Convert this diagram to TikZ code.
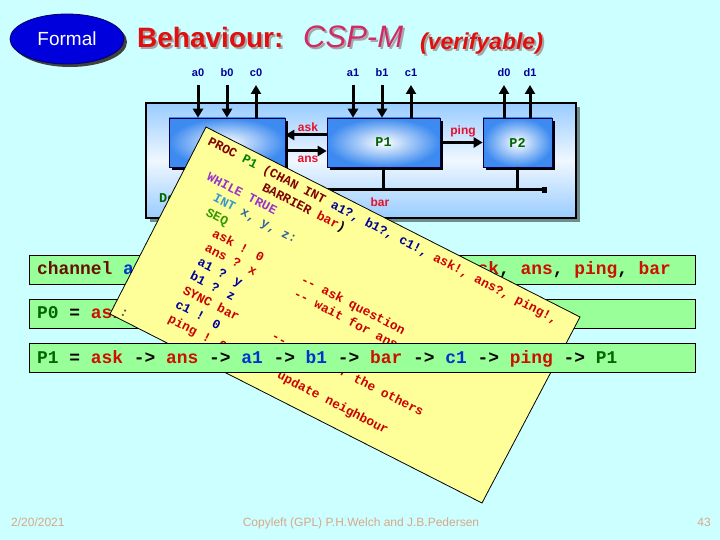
\documentclass[tikz,border=0pt]{standalone}
\usepackage{fontspec}
\setmainfont{Liberation Sans}
\newfontfamily\monof{Liberation Mono}
\usetikzlibrary{shapes.geometric,arrows.meta,shadows}
\definecolor{bgcyan}{HTML}{CCFFFF}
\definecolor{fblue}{HTML}{0000DD}
\definecolor{tred}{HTML}{E01010}
\definecolor{cspm}{HTML}{D02A66}
\definecolor{lblue}{HTML}{000099}
\definecolor{obl}{HTML}{99CCFF}
\definecolor{pblue}{HTML}{3D8BF0}
\definecolor{pgreen}{HTML}{006600}
\definecolor{sigred}{HTML}{E8102A}
\definecolor{bargreen}{HTML}{99FF99}
\definecolor{noteyellow}{HTML}{FFFF99}
\definecolor{nmaroon}{HTML}{800000}
\definecolor{ngreen}{HTML}{008000}
\definecolor{nblue}{HTML}{000099}
\definecolor{nred}{HTML}{CC0000}
\definecolor{npurple}{HTML}{9933CC}
\definecolor{nteal}{HTML}{3399CC}
\definecolor{nsteel}{HTML}{336699}
\definecolor{nseq}{HTML}{339900}
\definecolor{cmaroon}{HTML}{661100}
\definecolor{cblue}{HTML}{0033CC}
\definecolor{cred}{HTML}{CC1100}
\definecolor{foot}{HTML}{D8A888}
\tikzset{
  conn/.style={line width=3pt, black},
  arr/.style={conn, -{Triangle[length=9pt,width=10pt]}},
  lbl/.style={font=\fontsize{11}{12}\selectfont\bfseries, text=lblue, inner sep=0, anchor=base},
  sig/.style={font=\fontsize{12}{13}\selectfont\bfseries, text=sigred, inner sep=0},
  pbox/.style={rectangle, draw=blue!30!black, line width=0.6pt, inner color=white, outer color=pblue,
    minimum height=49pt, general shadow={fill=black, shadow xshift=3pt, shadow yshift=-3pt},
    font=\monof\bfseries\fontsize{13.5}{14}\selectfont, text=pgreen},
  outerbox/.style={rectangle, draw=black, line width=2pt, top color=obl, bottom color=obl, middle color=obl!15,
    general shadow={fill=black!45!bgcyan, shadow xshift=4pt, shadow yshift=-4pt}},
  greenbar/.style={rectangle, draw=black, line width=1pt, fill=bargreen, anchor=north west,
    minimum width=666pt, minimum height=29pt},
  bartext/.style={anchor=base west, inner sep=0, font=\monof\bfseries\fontsize{17.9}{20}\selectfont},
  nt/.style={anchor=base west, inner sep=0, font=\monof\bfseries\fontsize{12.8}{14}\selectfont},
  foottext/.style={inner sep=0, text=foot, font=\fontsize{12}{13}\selectfont},
}
\begin{document}
\begin{tikzpicture}[x=1pt,y=-1pt]
\fill[bgcyan] (0,0) rectangle (720,540);
\useasboundingbox (0,0) rectangle (720,540);

% Formal ellipse
\node[ellipse, fill=fblue, draw=blue!40!black, line width=0.8pt, minimum width=114pt, minimum height=50pt,
  inner sep=0, text=white, font=\fontsize{19}{22}\selectfont,
  general shadow={fill=black!75, shadow xshift=3pt, shadow yshift=-3pt}] (formal) at (67,39) {Formal};

% Title
\node[anchor=base west, inner sep=0, text=black!35, font=\fontsize{28}{30}\selectfont\bfseries] at (139,50) {Behaviour:};
\node[anchor=base west, inner sep=0, text=tred, font=\fontsize{28}{30}\selectfont\bfseries] (t1) at (137,48) {Behaviour:};
\node[anchor=base west, inner sep=0, text=black!35, font=\fontsize{31}{33}\selectfont\itshape] at (305,50) {CSP-M};
\node[anchor=base west, inner sep=0, text=cspm, font=\fontsize{31}{33}\selectfont\itshape] (t2) at (303,48) {CSP-M};
\node[anchor=base west, inner sep=0, text=black!35, font=\fontsize{23}{25}\selectfont\bfseries\itshape] at (422,52) {(verifyable)};
\node[anchor=base west, inner sep=0, text=tred, font=\fontsize{23}{25}\selectfont\bfseries\itshape] (t3) at (420,50) {(verifyable)};

% outer system box
\node[outerbox, minimum width=430pt, minimum height=115pt] (sys) at (361,160.5) {};

% process boxes
\node[pbox, minimum width=116pt] (P0) at (227,142.5) {};
\node[pbox, minimum width=113pt] (P1) at (383.5,142.5) {P1};
\node[pbox, minimum width=69pt] (P2) at (517.5,142.5) {P2};

% external channel labels
\node[lbl] (la0) at (198,77) {a0};
\node[lbl] (lb0) at (227,77) {b0};
\node[lbl] (lc0) at (256,77) {c0};
\node[lbl] (la1) at (353,77) {a1};
\node[lbl] (lb1) at (382,77) {b1};
\node[lbl] (lc1) at (411,77) {c1};
\node[lbl] (ld0) at (504,77) {d0};
\node[lbl] (ld1) at (530,77) {d1};
\coordinate (ta0) at (198,85);
\coordinate (tb0) at (227,85);
\coordinate (tc0) at (256,85);
\coordinate (ta1) at (353,85);
\coordinate (tb1) at (382,85);
\coordinate (tc1) at (411,85);
\coordinate (td0) at (504,85);
\coordinate (td1) at (530,85);
\draw[arr] (ta0) -- (ta0 |- P0.north);
\draw[arr] (tb0) -- (tb0 |- P0.north);
\draw[arr] (tc0 |- P0.north) -- (tc0);
\draw[arr] (ta1) -- (ta1 |- P1.north);
\draw[arr] (tb1) -- (tb1 |- P1.north);
\draw[arr] (tc1 |- P1.north) -- (tc1);
\draw[arr] (td0 |- P2.north) -- (td0);
\draw[arr] (td1 |- P2.north) -- (td1);

% internal channels
\draw[arr] ([yshift=7.5pt]P1.west) -- ([yshift=7.5pt]P0.east);
\draw[arr] ([yshift=-8.5pt]P0.east) -- ([yshift=-8.5pt]P1.west);
\draw[arr] (P1.east) -- (P2.west);
\node[sig] (lask) at (308,127) {ask};
\node[sig] (lans) at (308,159) {ans};
\node[sig] (lping) at (463,131) {ping};

% barrier
\coordinate (barL) at (227,190);
\coordinate (barR) at (543,190);
\draw[conn] (P0.south) -- (P0.south |- barL);
\draw[conn] (P1.south) -- (P1.south |- barL);
\draw[conn] (P2.south) -- (P2.south |- barL);
\draw[conn] (barL) -- (barR);
\fill (barR) +(-1,-3) rectangle +(4,3);
\node[sig] (lbar) at (380,202) {bar};
\node[anchor=base west, inner sep=0, text=pgreen, font=\monof\bfseries\fontsize{13.5}{14}\selectfont] (de) at (159,203) {De};

% green bars (under the note)
\node[greenbar] (ch) at (29,255) {};
\node[bartext] (chtxt) at (37,274) {\textcolor{cmaroon}{channel} \textcolor{cblue}{a0}, \textcolor{cblue}{b0}, \textcolor{cblue}{c0}, \textcolor{cblue}{a1}, \textcolor{cblue}{b1}, \textcolor{cblue}{c1}, \textcolor{cblue}{d0}, \textcolor{cblue}{d1}, \textcolor{cred}{ask}, \textcolor{cred}{ans}, \textcolor{cred}{ping}, \textcolor{cred}{bar}};
\node[greenbar] (pz) at (29,299) {};
\node[bartext] (pztxt) at (37,318) {\textcolor{pgreen}{P0} = \textcolor{cred}{ask}};

% the note
\filldraw[fill=noteyellow, draw=black, line width=0.8pt] (206,127) -- (580,317) -- (482,503) -- (110,314) -- cycle;
\begin{scope}[shift={(207,144)}, rotate=-27.3, transform shape]
  \node[nt] (n0) at (0,0) {\textcolor{nmaroon}{PROC} \textcolor{ngreen}{P1} \textcolor{nmaroon}{(CHAN INT} \textcolor{nblue}{a1?, b1?, c1!,} \textcolor{nred}{ask!, ans?, ping!,}};
  \node[nt] (n1) at (9*7.68,16) {\textcolor{nmaroon}{BARRIER} \textcolor{nred}{bar})};
  \node[nt, text=npurple] (n2) at (2*7.68,32) {WHILE TRUE};
  \node[nt] (n3) at (4*7.68,48) {\textcolor{nteal}{INT} \textcolor{nsteel}{x, y, z:}};
  \node[nt, text=nseq] (n4) at (4*7.68,64) {SEQ};
  \node[nt, text=nred] (n5) at (6*7.68,80) {ask ! 0};
  \node[nt, text=nred] (c5) at (19*7.68,80) {-- ask question};
  \node[nt, text=nred] (n6) at (6*7.68,96) {ans ? x};
  \node[nt, text=nred] (c6) at (19*7.68,96) {-- wait for answer};
  \node[nt, text=nblue] (n7) at (6*7.68,112) {a1 ? y};
  \node[nt, text=nblue] (n8) at (6*7.68,128) {b1 ? z};
  \node[nt, text=nred] (n9) at (6*7.68,144) {SYNC bar};
  \node[nt, text=nred] (c9) at (19*7.68,144) {-- wait for the others};
  \node[nt, text=nblue] (n10) at (6*7.68,160) {c1 ! 0};
  \node[nt, text=nred] (n11) at (6*7.68,176) {ping ! 0};
  \node[nt, text=nred] (c11) at (19*7.68,176) {-- update neighbour};
  \node[nt, text=black!70] (n12) at (0,192) {:};
\end{scope}

% green bar over the note
\node[greenbar] (pone) at (29,343) {};
\node[bartext] (ponetxt) at (37,363) {\textcolor{pgreen}{P1} = \textcolor{cred}{ask} -> \textcolor{cred}{ans} -> \textcolor{cblue}{a1} -> \textcolor{cblue}{b1} -> \textcolor{cred}{bar} -> \textcolor{cblue}{c1} -> \textcolor{cred}{ping} -> \textcolor{pgreen}{P1}};

% footer
\node[foottext, anchor=base west] (date) at (11,526) {2/20/2021};
\node[foottext, anchor=base] (copy) at (361,526) {Copyleft (GPL) P.H.Welch and J.B.Pedersen};
\node[foottext, anchor=base east] (page) at (711,526) {43};
\end{tikzpicture}
\end{document}
